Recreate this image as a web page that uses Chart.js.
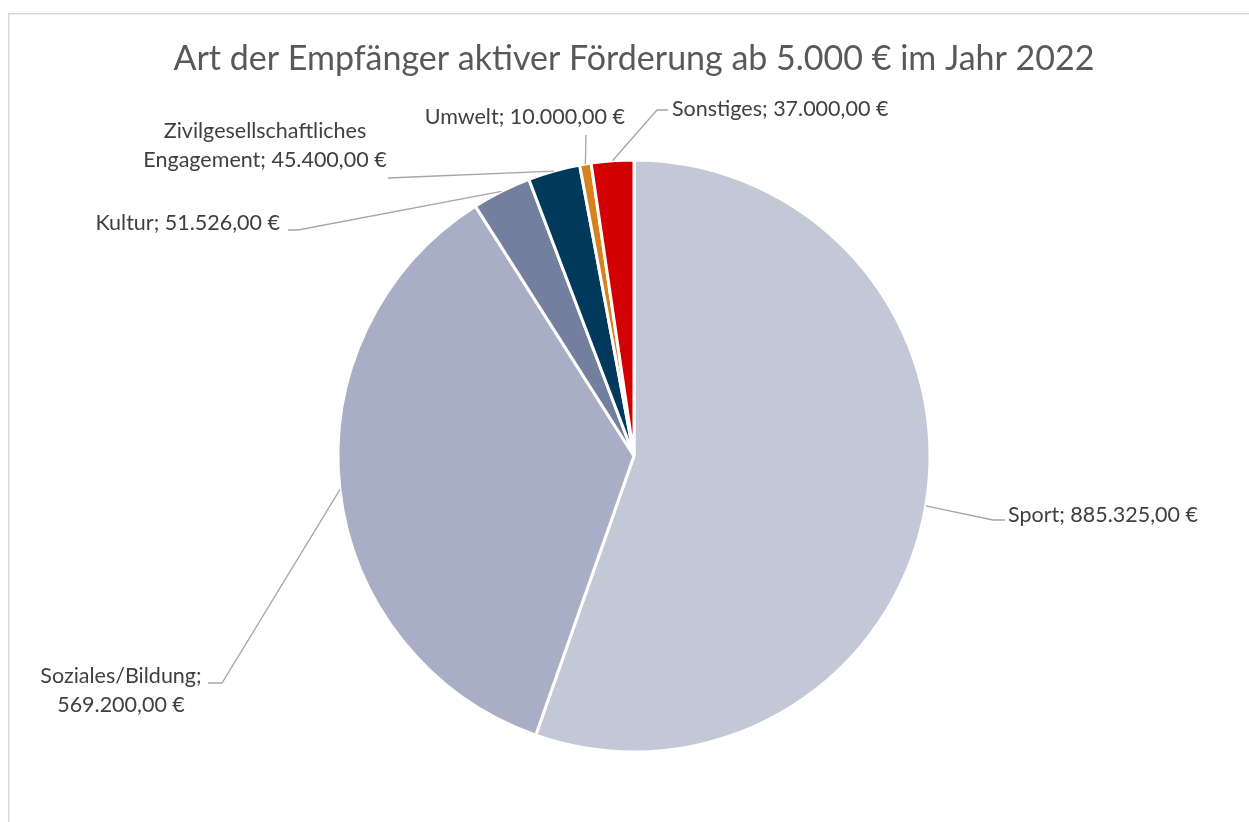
<!DOCTYPE html>
<html>
<head>
<meta charset="utf-8">
<script src="https://cdn.jsdelivr.net/npm/chart.js@4"></script>
<style>
  body { margin: 0; background: #fff; }
</style>
</head>
<body>
<canvas id="pie" width="1249" height="822"></canvas>
<script>
// Daten
const kategorien = ['Sport', 'Soziales/Bildung', 'Kultur', 'Zivilgesellschaftliches Engagement', 'Umwelt', 'Sonstiges'];
const betraege = [885325, 569200, 51526, 45400, 10000, 37000];
const farben = ['#C3C8D7', '#A9AEC7', '#727F9E', '#00395B', '#D6831F', '#D20000'];

// Position der Beschriftungen (Knick der Führungslinie und Textanker)
const beschriftung = [
    { knick: [993, 520], ende: [1005, 520], x: 1008, y: 515, align: 'left', umbruch: 'keiner' },
    { knick: [222, 683], ende: [208, 683], x: 121, y: 676, align: 'center', umbruch: 'wert' },
    { knick: [298, 230], ende: [288, 230], x: 280, y: 223, align: 'right', umbruch: 'keiner' },
    { knick: [388, 178], ende: [388, 178], x: 265, y: 131, align: 'center', umbruch: 'wort' },
    { knick: [586, 135], ende: [586, 135], x: 625, y: 117, align: 'right', umbruch: 'keiner' },
    { knick: [657, 110], ende: [668, 110], x: 672, y: 109, align: 'left', umbruch: 'keiner' }
];

function euro(v) {
    const s = Math.round(v).toString().replace(/\B(?=(\d{3})+(?!\d))/g, '.');
    return s + ',00 €';
}

function zeilen(i) {
    const name = kategorien[i], wert = euro(betraege[i]);
    const art = beschriftung[i].umbruch;
    if (art === 'wert') return [name + ';', wert];
    if (art === 'wort') {
        const p = name.indexOf(' ');
        return [name.slice(0, p), name.slice(p + 1) + '; ' + wert];
    }
    return [name + '; ' + wert];
}

const rahmen = {
    id: 'rahmen',
    beforeDraw(chart) {
        const ctx = chart.ctx;
        ctx.save();
        ctx.strokeStyle = '#D9D9D9';
        ctx.lineWidth = 1.5;
        ctx.strokeRect(8.75, 13.75, 1300, 900);
        ctx.fillStyle = '#595959';
        ctx.font = '34px Lato';
        ctx.textAlign = 'center';
        ctx.textBaseline = 'middle';
        ctx.fillText('Art der Empfänger aktiver Förderung ab 5.000 € im Jahr 2022', 634, 59);
        ctx.restore();
    }
};

const etiketten = {
    id: 'etiketten',
    afterDatasetsDraw(chart) {
        const ctx = chart.ctx;
        const meta = chart.getDatasetMeta(0);
        ctx.save();
        meta.data.forEach((arc, i) => {
            const b = beschriftung[i];
            const mitte = (arc.startAngle + arc.endAngle) / 2;
            const sx = arc.x + Math.cos(mitte) * arc.outerRadius;
            const sy = arc.y + Math.sin(mitte) * arc.outerRadius;
            ctx.strokeStyle = '#A6A6A6';
            ctx.lineWidth = 1.3;
            ctx.beginPath();
            ctx.moveTo(sx, sy);
            ctx.lineTo(b.knick[0], b.knick[1]);
            ctx.lineTo(b.ende[0], b.ende[1]);
            ctx.stroke();

            ctx.fillStyle = '#404040';
            ctx.font = '21.5px Lato';
            ctx.textAlign = b.align;
            ctx.textBaseline = 'middle';
            zeilen(i).forEach((z, k) => ctx.fillText(z, b.x, b.y + k * 29.5));
        });
        ctx.restore();
    }
};

new Chart(document.getElementById('pie'), {
    type: 'pie',
    data: {
        labels: kategorien,
        datasets: [{
            data: betraege,
            backgroundColor: farben,
            borderColor: '#FFFFFF',
            borderWidth: 3,
            hoverOffset: 0,
            radius: 296
        }]
    },
    options: {
        responsive: false,
        devicePixelRatio: 1,
        animation: false,
        layout: { padding: { top: 100, bottom: 10, left: 29, right: 10 } },
        plugins: {
            legend: { display: false },
            tooltip: { enabled: false },
            title: { display: false }
        }
    },
    plugins: [rahmen, etiketten]
});
</script>
</body>
</html>
